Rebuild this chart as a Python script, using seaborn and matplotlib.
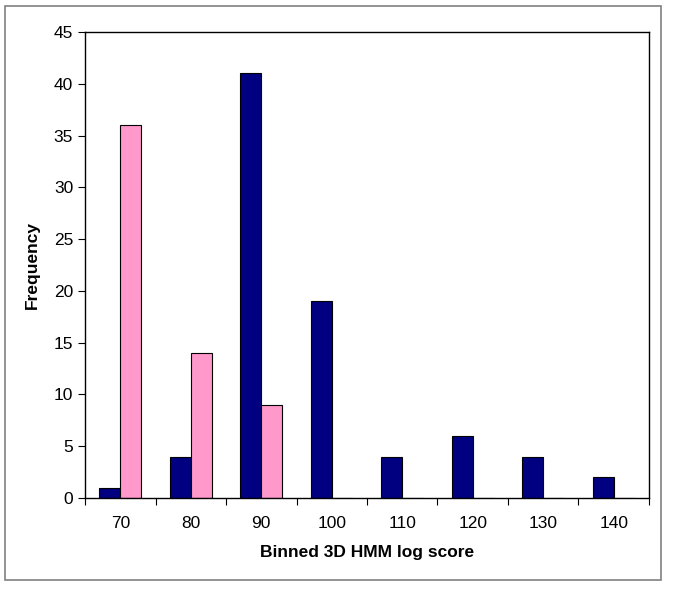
import matplotlib
matplotlib.use('Agg')
import matplotlib.pyplot as plt
import pandas as pd
import seaborn as sns

bins = ['70', '80', '90', '100', '110', '120', '130', '140']
navy_vals = [1, 4, 41, 19, 4, 6, 4, 2]
pink_vals = [36, 14, 9, 0, 0, 0, 0, 0]

df = pd.DataFrame({
    'bin': bins * 2,
    'freq': navy_vals + pink_vals,
    'grupo': ['a'] * len(bins) + ['b'] * len(bins),
})

sns.set_style('white')
plt.rcParams['font.family'] = ['Liberation Sans', 'DejaVu Sans']
plt.rcParams['text.color'] = 'black'
plt.rcParams['axes.labelcolor'] = 'black'
plt.rcParams['xtick.color'] = 'black'
plt.rcParams['ytick.color'] = 'black'

fig = plt.figure(figsize=(6.85, 6.05), dpi=100)
ax = fig.add_axes([85 / 685, 107 / 605, 564 / 685, 466 / 605])

sns.barplot(data=df, x='bin', y='freq', hue='grupo', order=bins,
            palette={'a': '#000080', 'b': '#ff99cc'}, width=0.6, saturation=1,
            edgecolor='black', linewidth=0.8, legend=False, ax=ax)

ax.set_ylim(0, 45)
ax.set_yticks(range(0, 46, 5))
ax.set_xlim(-0.5, len(bins) - 0.5)
ax.set_xticks(range(len(bins)))
ax.set_xticklabels(bins)
ax.set_xticks([i + 0.5 for i in range(-1, len(bins))], minor=True)
ax.tick_params(axis='x', which='major', length=0, labelsize=12.5, pad=13)
ax.tick_params(axis='x', which='minor', length=5, width=0.8, direction='out', bottom=True)
ax.tick_params(axis='y', length=5, width=0.8, direction='out', left=True, labelsize=12.5)

for s in ax.spines.values():
    s.set_color('black')
    s.set_linewidth(1.0)

ax.set_xlabel('Binned 3D HMM log score', fontsize=12.5, fontweight='bold', labelpad=10)
ax.set_ylabel('Frequency', fontsize=12.5, fontweight='bold', labelpad=10)

# borda cinza em volta do grafico
borda = plt.Rectangle((5 / 685, 25 / 605), 656 / 685, 574 / 605, transform=fig.transFigure,
                      fill=False, edgecolor='#808080', linewidth=1.2)
fig.patches.append(borda)

fig.savefig('out.png', dpi=100)
